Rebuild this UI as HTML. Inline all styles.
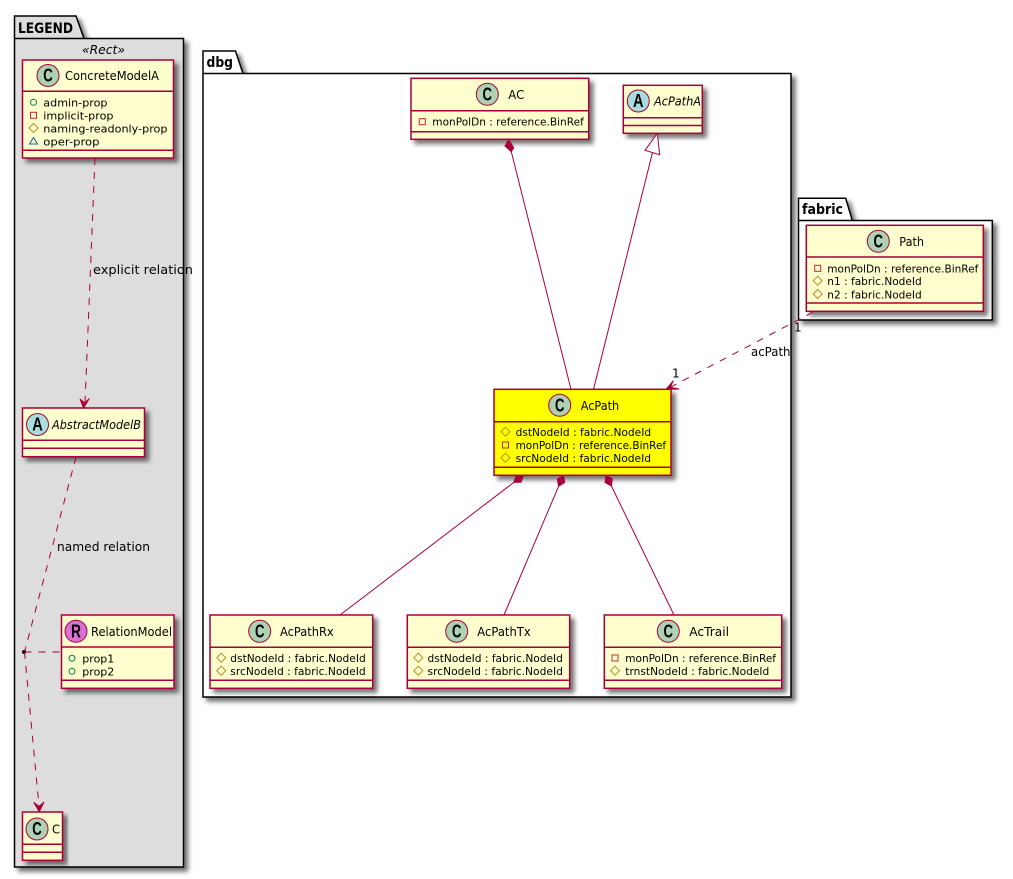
<!DOCTYPE html>
<html><head><meta charset="utf-8"><title>Diagram</title>
<style>
html,body{margin:0;padding:0;background:#fff;width:1013px;height:879px;overflow:hidden}
svg{display:block}
text{font-family:"DejaVu Sans","Liberation Sans",sans-serif;font-size:11px;fill:#000}
.n{font-size:12px}
.i{font-style:italic}
.p{font-weight:bold;font-size:14px}
.l{font-size:12px}
.g{font-family:"Liberation Sans",sans-serif;font-weight:bold;font-size:18px;text-anchor:middle}
.b{fill:#FEFECE;stroke:#A80036;stroke-width:1.5}
.y{fill:#FFFF00;stroke:#A80036;stroke-width:1.5}
.d{stroke:#A80036;stroke-width:1.5;fill:none}
.c{fill:#ADD1B2;stroke:#A80036;stroke-width:1}
.a{fill:#A9DCDF;stroke:#A80036;stroke-width:1}
.r{fill:#DA70D6;stroke:#A80036;stroke-width:1}
.e{stroke:#A80036;stroke-width:1;fill:none}
.ds{stroke-dasharray:7 7}
.f{fill:#A80036;stroke:#A80036;stroke-width:1}
.pk{stroke:#000;stroke-width:1.5}
.io{fill:none;stroke:#038048;stroke-width:1}
.is{fill:none;stroke:#C82930;stroke-width:1}
.id{fill:none;stroke:#B38D22;stroke-width:1}
.it{fill:none;stroke:#1963A0;stroke-width:1}
</style></head><body>
<svg width="1013" height="879" viewBox="0 0 1013 879" xmlns="http://www.w3.org/2000/svg">
<defs>
<filter id="s" x="-10%" y="-10%" width="125%" height="125%"><feDropShadow dx="4" dy="4" stdDeviation="2.5" flood-color="#000" flood-opacity="0.55"/></filter>
<path id="dm" d="M0-4.5L4.5 0L0 4.5L-4.5 0Z"/>
</defs>

<!-- LEGEND package -->
<g filter="url(#s)"><path class="pk" fill="#DDDDDD" d="M14.5 38.5V16H76L84 38.5H183.5V867H14.5Z"/></g>
<path class="pk" fill="none" d="M14.5 38.5H84"/>
<text class="p" x="18" y="33" textLength="55" lengthAdjust="spacingAndGlyphs">LEGEND</text>
<text class="i n" x="82" y="54" textLength="43" lengthAdjust="spacingAndGlyphs">«Rect»</text>

<!-- dbg package -->
<g filter="url(#s)"><path class="pk" fill="#fff" d="M203 73.5V51H235.5L243 73.5H791V697H203Z"/></g>
<path class="pk" fill="none" d="M203 73.5H243"/>
<text class="p" x="206.5" y="67" textLength="26.5" lengthAdjust="spacingAndGlyphs">dbg</text>

<!-- fabric package -->
<g filter="url(#s)"><path class="pk" fill="#fff" d="M798.5 220.5V198.3H845.7L852.3 220.5H992.3V320H798.5Z"/></g>
<path class="pk" fill="none" d="M798.5 220.5H852.3"/>
<text class="p" x="802" y="214" textLength="41" lengthAdjust="spacingAndGlyphs">fabric</text>

<!-- ConcreteModelA -->
<g filter="url(#s)"><rect class="b" x="22.5" y="60" width="151" height="98"/></g>
<path class="d" d="M22.5 91.3H173.5M22.5 150.3H173.5"/>
<circle class="c" cx="48" cy="75.5" r="11"/><text class="g" x="48" y="81.7" textLength="9.5" lengthAdjust="spacingAndGlyphs">C</text>
<text class="n" x="65" y="80" textLength="94" lengthAdjust="spacingAndGlyphs">ConcreteModelA</text>
<circle class="io" cx="33.5" cy="102.3" r="3"/>
<text x="43.3" y="106.3" textLength="64.2" lengthAdjust="spacingAndGlyphs">admin-prop</text>
<rect class="is" x="30.5" y="112.3" width="6" height="6"/>
<text x="43.3" y="119.3" textLength="70.2" lengthAdjust="spacingAndGlyphs">implicit-prop</text>
<use href="#dm" class="id" x="33.5" y="128"/>
<text x="43.3" y="132.3" textLength="124.2" lengthAdjust="spacingAndGlyphs">naming-readonly-prop</text>
<path class="it" d="M33.5 137.5L37.5 144H29.5Z"/>
<text x="43.3" y="145.3" textLength="56.2" lengthAdjust="spacingAndGlyphs">oper-prop</text>

<!-- AbstractModelB -->
<g filter="url(#s)"><rect class="b" x="22.5" y="408" width="122" height="48.7"/></g>
<path class="d" d="M22.5 440.3H144.5M22.5 448.3H144.5"/>
<circle class="a" cx="37.5" cy="424.5" r="11"/><text class="g" x="37.5" y="430.7" textLength="10.5" lengthAdjust="spacingAndGlyphs">A</text>
<text class="n i" x="52" y="429" textLength="89" lengthAdjust="spacingAndGlyphs">AbstractModelB</text>

<!-- RelationModel -->
<g filter="url(#s)"><rect class="b" x="61.5" y="615" width="112.5" height="73.3"/></g>
<path class="d" d="M61.5 647H174M61.5 680.3H174"/>
<circle class="r" cx="76" cy="631.3" r="11"/><text class="g" x="76" y="637.5" textLength="10" lengthAdjust="spacingAndGlyphs">R</text>
<text class="n" x="91" y="636" textLength="81" lengthAdjust="spacingAndGlyphs">RelationModel</text>
<circle class="io" cx="72" cy="658.3" r="3"/>
<text x="82.3" y="662.3" textLength="32" lengthAdjust="spacingAndGlyphs">prop1</text>
<circle class="io" cx="72" cy="671.3" r="3"/>
<text x="82.3" y="675.3" textLength="32" lengthAdjust="spacingAndGlyphs">prop2</text>

<!-- C -->
<g filter="url(#s)"><rect class="b" x="22.5" y="812" width="40" height="48.3"/></g>
<path class="d" d="M22.5 844.3H62.5M22.5 852.3H62.5"/>
<circle class="c" cx="37" cy="829" r="11"/><text class="g" x="37" y="835.2" textLength="9.5" lengthAdjust="spacingAndGlyphs">C</text>
<text class="n" x="52" y="833.5" textLength="8" lengthAdjust="spacingAndGlyphs">C</text>

<!-- legend connectors -->
<path class="e ds" d="M95 158L85 403"/>
<path class="f" d="M83.5 408L80 399L84.7 403L89.3 398.5Z"/>
<text class="l" x="93" y="274" textLength="100" lengthAdjust="spacingAndGlyphs">explicit relation</text>
<path class="e ds" d="M76 457L24.5 652"/>
<text class="l" x="57" y="551" textLength="93" lengthAdjust="spacingAndGlyphs">named relation</text>
<circle cx="24" cy="652" r="2" fill="#000"/>
<path class="e ds" d="M24.5 652H61"/>
<path class="e ds" d="M24.5 652L39 806"/>
<path class="f" d="M39.3 811.7L33.7 802.3L39 806.5L44 802Z"/>

<!-- AC -->
<g filter="url(#s)"><rect class="b" x="411" y="78.3" width="177.7" height="61"/></g>
<path class="d" d="M411 110.7H588.7M411 131.7H588.7"/>
<circle class="c" cx="487.3" cy="94.3" r="11"/><text class="g" x="487.3" y="100.5" textLength="9.5" lengthAdjust="spacingAndGlyphs">C</text>
<text class="n" x="508.3" y="99" textLength="16" lengthAdjust="spacingAndGlyphs">AC</text>
<rect class="is" x="419.3" y="118.7" width="6" height="6"/>
<text x="432.3" y="125.7" textLength="151.5" lengthAdjust="spacingAndGlyphs">monPolDn : reference.BinRef</text>

<!-- AcPathA -->
<g filter="url(#s)"><rect class="b" x="623.3" y="85.3" width="79" height="48"/></g>
<path class="d" d="M623.3 117.7H702.3M623.3 125.5H702.3"/>
<circle class="a" cx="638.3" cy="101" r="11"/><text class="g" x="638.3" y="107.2" textLength="10.5" lengthAdjust="spacingAndGlyphs">A</text>
<text class="n i" x="654" y="105.5" textLength="47" lengthAdjust="spacingAndGlyphs">AcPathA</text>

<!-- Path -->
<g filter="url(#s)"><rect class="b" x="806.3" y="225.3" width="177" height="86"/></g>
<path class="d" d="M806.3 257H983.3M806.3 303H983.3"/>
<circle class="c" cx="878.3" cy="241.3" r="11"/><text class="g" x="878.3" y="247.5" textLength="9.5" lengthAdjust="spacingAndGlyphs">C</text>
<text class="n" x="899.3" y="246" textLength="24.7" lengthAdjust="spacingAndGlyphs">Path</text>
<rect class="is" x="814.7" y="265.3" width="6" height="6"/>
<text x="827.3" y="272.3" textLength="151" lengthAdjust="spacingAndGlyphs">monPolDn : reference.BinRef</text>
<use href="#dm" class="id" x="817.7" y="280.7"/>
<text x="827.3" y="285" textLength="94.4" lengthAdjust="spacingAndGlyphs">n1 : fabric.NodeId</text>
<use href="#dm" class="id" x="817.7" y="294"/>
<text x="827.3" y="298.3" textLength="94.4" lengthAdjust="spacingAndGlyphs">n2 : fabric.NodeId</text>

<!-- AcPath -->
<g filter="url(#s)"><rect class="y" x="494" y="389.3" width="177" height="86"/></g>
<path class="d" d="M494 421.7H671M494 467.3H671"/>
<circle class="c" cx="559.7" cy="405.3" r="11"/><text class="g" x="559.7" y="411.5" textLength="9.5" lengthAdjust="spacingAndGlyphs">C</text>
<text class="n" x="580.7" y="410" textLength="38.5" lengthAdjust="spacingAndGlyphs">AcPath</text>
<use href="#dm" class="id" x="505.5" y="431.7"/>
<text x="515.6" y="436" textLength="135.5" lengthAdjust="spacingAndGlyphs">dstNodeId : fabric.NodeId</text>
<rect class="is" x="502.5" y="442" width="6" height="6"/>
<text x="515.6" y="449" textLength="150.5" lengthAdjust="spacingAndGlyphs">monPolDn : reference.BinRef</text>
<use href="#dm" class="id" x="505.5" y="457.7"/>
<text x="515.6" y="462" textLength="135.5" lengthAdjust="spacingAndGlyphs">srcNodeId : fabric.NodeId</text>

<!-- AcPathRx -->
<g filter="url(#s)"><rect class="b" x="210" y="615" width="162.7" height="73.3"/></g>
<path class="d" d="M210 647.3H372.7M210 680.3H372.7"/>
<circle class="c" cx="259.7" cy="631.3" r="11"/><text class="g" x="259.7" y="637.5" textLength="9.5" lengthAdjust="spacingAndGlyphs">C</text>
<text class="n" x="280" y="636" textLength="53.7" lengthAdjust="spacingAndGlyphs">AcPathRx</text>
<use href="#dm" class="id" x="221.3" y="657.7"/>
<text x="230.3" y="662" textLength="135.4" lengthAdjust="spacingAndGlyphs">dstNodeId : fabric.NodeId</text>
<use href="#dm" class="id" x="221.3" y="670.7"/>
<text x="230.3" y="675" textLength="135.4" lengthAdjust="spacingAndGlyphs">srcNodeId : fabric.NodeId</text>

<!-- AcPathTx -->
<g filter="url(#s)"><rect class="b" x="407.3" y="615" width="162.4" height="73.3"/></g>
<path class="d" d="M407.3 647.3H569.7M407.3 680.3H569.7"/>
<circle class="c" cx="456.7" cy="631.3" r="11"/><text class="g" x="456.7" y="637.5" textLength="9.5" lengthAdjust="spacingAndGlyphs">C</text>
<text class="n" x="477.3" y="636" textLength="53.4" lengthAdjust="spacingAndGlyphs">AcPathTx</text>
<use href="#dm" class="id" x="418.3" y="657.7"/>
<text x="427.5" y="662" textLength="135.4" lengthAdjust="spacingAndGlyphs">dstNodeId : fabric.NodeId</text>
<use href="#dm" class="id" x="418.3" y="670.7"/>
<text x="427.5" y="675" textLength="135.4" lengthAdjust="spacingAndGlyphs">srcNodeId : fabric.NodeId</text>

<!-- AcTrail -->
<g filter="url(#s)"><rect class="b" x="604.3" y="615" width="177.4" height="73.3"/></g>
<path class="d" d="M604.3 647.3H781.7M604.3 680.3H781.7"/>
<circle class="c" cx="668.3" cy="631.3" r="11"/><text class="g" x="668.3" y="637.5" textLength="9.5" lengthAdjust="spacingAndGlyphs">C</text>
<text class="n" x="689.3" y="636" textLength="39.7" lengthAdjust="spacingAndGlyphs">AcTrail</text>
<rect class="is" x="612" y="655" width="6" height="6"/>
<text x="625.3" y="662" textLength="150.7" lengthAdjust="spacingAndGlyphs">monPolDn : reference.BinRef</text>
<use href="#dm" class="id" x="615" y="670.7"/>
<text x="625.3" y="675" textLength="144" lengthAdjust="spacingAndGlyphs">trnstNodeId : fabric.NodeId</text>

<!-- dbg connectors -->
<path class="e" d="M511.3 151.7L571 389.3"/>
<path class="f" d="M508.7 139.5L513.7 147.7L511.3 151.7L505 146Z"/>
<path class="e" d="M652.5 152.5L593.5 389.3"/>
<path d="M657.3 133.5L659.7 154.7L645 150.3Z" fill="#fff" stroke="#A80036" stroke-width="1"/>
<path class="e" d="M513.8 482.4L340 615"/>
<path class="f" d="M523.5 475.3L521.1 482.1L513.8 482.4L516.3 475.7Z"/>
<path class="e" d="M558.6 486.3L504 615"/>
<path class="f" d="M563.4 475.3L564.7 482.4L558.6 486.3L557.4 479.2Z"/>
<path class="e" d="M611.4 486L674 615"/>
<path class="f" d="M606 475.3L612.3 478.9L611.4 486L605.1 482.5Z"/>

<!-- acPath connector -->
<path class="e ds" d="M812.7 312.3L670.4 387.2"/>
<path class="f" d="M666 389.5L673.3 380.7L670.4 387.2L679.3 389Z"/>
<text class="l" x="751" y="356" textLength="39.5" lengthAdjust="spacingAndGlyphs">acPath</text>
<text class="l" x="794" y="331.7">1</text>
<text class="l" x="672" y="377.7">1</text>
</svg>
</body></html>
